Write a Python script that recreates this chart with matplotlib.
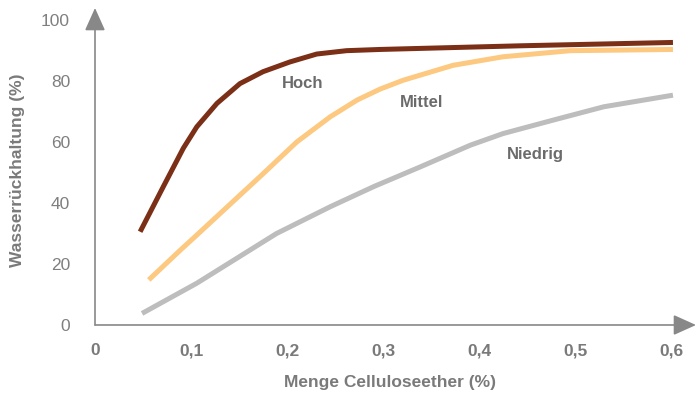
import matplotlib.pyplot as plt

plt.rcParams['font.family'] = ['Liberation Sans', 'DejaVu Sans']

# Daten
hoch_x = [0.047, 0.071, 0.092, 0.106, 0.127, 0.151, 0.175, 0.203, 0.231, 0.262, 0.297, 0.443, 0.602]
hoch_y = [30.6, 45.3, 58.0, 65.0, 72.7, 79.2, 83.1, 86.3, 88.9, 90.0, 90.4, 91.6, 92.7]

mittel_x = [0.056, 0.089, 0.106, 0.141, 0.175, 0.21, 0.245, 0.273, 0.297, 0.321, 0.373, 0.425, 0.495, 0.602]
mittel_y = [14.8, 24.6, 29.5, 39.7, 49.6, 60.0, 68.3, 73.8, 77.4, 80.3, 85.2, 88.0, 90.0, 90.4]

niedrig_x = [0.049, 0.106, 0.189, 0.245, 0.291, 0.339, 0.391, 0.425, 0.477, 0.53, 0.602]
niedrig_y = [3.8, 13.7, 30.0, 38.8, 45.5, 51.9, 59.0, 62.8, 67.2, 71.6, 75.4]

x_ticks = [0, 0.1, 0.2, 0.3, 0.4, 0.5, 0.6]
x_labels = ['0', '0,1', '0,2', '0,3', '0,4', '0,5', '0,6']
y_ticks = [0, 20, 40, 60, 80, 100]

fig = plt.figure(figsize=(6.96, 3.99), dpi=100)
ax = fig.add_axes([95 / 696, 74 / 399, 601 / 696, 317 / 399])

style = dict(lw=3.6, solid_capstyle='butt', solid_joinstyle='round')
ax.plot(niedrig_x, niedrig_y, color='#bdbdbd', **style)
ax.plot(mittel_x, mittel_y, color='#fdc880', **style)
ax.plot(hoch_x, hoch_y, color='#7b2f17', **style)

ax.text(0.216, 79.2, 'Hoch', color='#6b6b6b', fontsize=12, fontweight='bold', ha='center', va='center')
ax.text(0.34, 73.0, 'Mittel', color='#6b6b6b', fontsize=12, fontweight='bold', ha='center', va='center')
ax.text(0.459, 56.0, 'Niedrig', color='#6b6b6b', fontsize=12, fontweight='bold', ha='center', va='center')

ax.set_xlim(0, 0.626)
ax.set_ylim(0, 104)
for s in ax.spines.values():
    s.set_visible(False)

ax.set_xticks(x_ticks)
ax.set_xticklabels(x_labels, fontweight='bold')
ax.set_yticks(y_ticks)
ax.tick_params(axis='x', length=0, pad=13, labelsize=12.5, labelcolor='#7a7a7a')
ax.tick_params(axis='y', length=0, pad=18, labelsize=12.5, labelcolor='#7f7f7f')
for lab in ax.get_xticklabels():
    lab.set_fontweight('bold')

# Achsen mit Pfeilen
arrow = dict(arrowstyle='-|>,head_length=1.0,head_width=0.45', color='#888888', lw=1.2,
             mutation_scale=14, shrinkA=0, shrinkB=0)
ax.annotate('', xy=(1.0, 0), xytext=(0, 0), xycoords='axes fraction', arrowprops=arrow)
ax.annotate('', xy=(0, 1.0), xytext=(0, 0), xycoords='axes fraction', arrowprops=arrow)

fig.text(390 / 696, 1 - 383 / 399, 'Menge Celluloseether (%)', color='#7a7a7a',
         fontsize=12.5, fontweight='bold', ha='center', va='center')
fig.text(18 / 696, 1 - 170 / 399, 'Wasserrückhaltung (%)', color='#7a7a7a',
         fontsize=12.5, fontweight='bold', ha='center', va='center', rotation=90)

fig.savefig('out.png', dpi=100)
